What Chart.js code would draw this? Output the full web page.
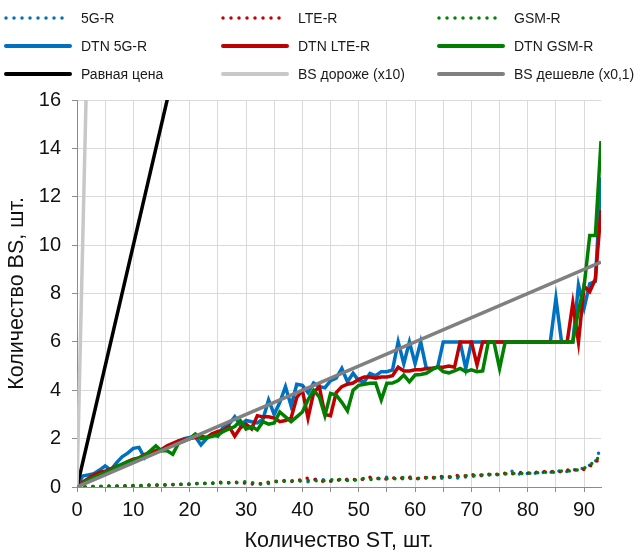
<!DOCTYPE html>
<html lang="ru">
<head>
<meta charset="utf-8">
<title>Количество BS и ST</title>
<script src="https://cdn.jsdelivr.net/npm/chart.js@4.4.1/dist/chart.umd.min.js"></script>
<style>
  html, body { margin: 0; padding: 0; background: #fff; }
  .wrap { position: relative; width: 641px; height: 554px; font-family: 'Liberation Sans', Arial, sans-serif; }
  #chart { position: absolute; left: 0; top: 0; }
  .legend { position: absolute; left: 0; top: 0; width: 641px; height: 90px; }
  .item { position: absolute; height: 20px; display: flex; align-items: center; font-size: 14px; color: #1a1a1a; white-space: nowrap; }
  .item svg { margin-right: 9px; }
</style>
</head>
<body>
<div class="wrap">
  <canvas id="chart" width="641" height="554"></canvas>
  <div class="legend" id="legend"></div>
</div>
<script>
'use strict';

// number of ST (x axis)
const stCount = [
   0,  1,  2,  3,  4,  5,  6,  7,  8,  9, 10, 11, 12, 13, 14, 15, 16, 17, 18, 19,
  20, 21, 22, 23, 24, 25, 26, 27, 28, 29, 30, 31, 32, 33, 34, 35, 36, 37, 38, 39,
  40, 41, 42, 43, 44, 45, 46, 47, 48, 49, 50, 51, 52, 53, 54, 55, 56, 57, 58, 59,
  60, 61, 62, 63, 64, 65, 66, 67, 68, 69, 70, 71, 72, 73, 74, 75, 76, 77, 78, 79,
  80, 81, 82, 83, 84, 85, 86, 87, 88, 89, 90, 91, 92, 93
];
const stTicks = [0, 5, 10, 15, 20, 25, 30, 35, 40, 45, 50, 55, 60, 65, 70, 75, 80, 85, 90];

// number of BS, plain networks (dotted)
const bs5g = [
  0, 0.01, 0.02, 0.02, 0.03, 0.03, 0.04, 0.04, 0.05, 0.05,
  0.06, 0.06, 0.07, 0.08, 0.08, 0.09, 0.10, 0.10, 0.11, 0.12,
  0.13, 0.14, 0.17, 0.14, 0.16, 0.20, 0.17, 0.18, 0.19, 0.17,
  0.18, 0.16, 0.12, 0.15, 0.14, 0.20, 0.25, 0.28, 0.26, 0.24,
  0.26, 0.22, 0.30, 0.36, 0.27, 0.24, 0.27, 0.30, 0.32, 0.28,
  0.30, 0.33, 0.36, 0.34, 0.38, 0.40, 0.37, 0.35, 0.34, 0.42,
  0.35, 0.33, 0.36, 0.38, 0.34, 0.37, 0.40, 0.38, 0.36, 0.42,
  0.45, 0.43, 0.47, 0.50, 0.48, 0.52, 0.54, 0.68, 0.55, 0.53,
  0.56, 0.58, 0.56, 0.62, 0.60, 0.65, 0.68, 0.64, 0.72, 0.70,
  0.80, 0.90, 1.05, 1.67
];
const bsLte = [
  0, 0.00, 0.01, 0.02, 0.02, 0.03, 0.03, 0.03, 0.04, 0.04,
  0.05, 0.05, 0.06, 0.07, 0.07, 0.08, 0.09, 0.09, 0.10, 0.11,
  0.12, 0.15, 0.13, 0.16, 0.15, 0.22, 0.18, 0.17, 0.20, 0.19,
  0.16, 0.12, 0.11, 0.16, 0.20, 0.23, 0.26, 0.24, 0.22, 0.30,
  0.28, 0.38, 0.33, 0.26, 0.22, 0.25, 0.30, 0.28, 0.30, 0.32,
  0.28, 0.34, 0.40, 0.36, 0.35, 0.33, 0.37, 0.39, 0.36, 0.38,
  0.34, 0.36, 0.40, 0.38, 0.41, 0.44, 0.42, 0.46, 0.49, 0.46,
  0.52, 0.48, 0.50, 0.53, 0.51, 0.55, 0.57, 0.54, 0.58, 0.60,
  0.57, 0.62, 0.60, 0.64, 0.63, 0.66, 0.62, 0.70, 0.68, 0.72,
  0.72, 0.85, 1.00, 1.25
];
const bsGsm = [
  0, 0.01, 0.01, 0.02, 0.02, 0.02, 0.03, 0.04, 0.04, 0.05,
  0.05, 0.06, 0.06, 0.07, 0.08, 0.08, 0.09, 0.10, 0.11, 0.11,
  0.12, 0.13, 0.14, 0.15, 0.16, 0.15, 0.17, 0.18, 0.16, 0.20,
  0.22, 0.18, 0.14, 0.12, 0.17, 0.22, 0.25, 0.23, 0.24, 0.26,
  0.25, 0.27, 0.24, 0.29, 0.25, 0.30, 0.28, 0.33, 0.27, 0.26,
  0.32, 0.36, 0.30, 0.33, 0.35, 0.34, 0.32, 0.36, 0.40, 0.35,
  0.37, 0.36, 0.39, 0.41, 0.38, 0.42, 0.40, 0.45, 0.43, 0.47,
  0.46, 0.50, 0.49, 0.52, 0.50, 0.53, 0.55, 0.57, 0.54, 0.56,
  0.58, 0.55, 0.60, 0.62, 0.58, 0.64, 0.66, 0.65, 0.69, 0.71,
  0.78, 0.92, 1.05, 1.40
];

// number of BS, DTN variants (solid)
const dtn5g = [
  0, 0.45, 0.50, 0.55, 0.70, 0.87, 0.70, 1.00, 1.25, 1.40,
  1.60, 1.64, 1.20, 1.40, 1.45, 1.50, 1.65, 1.75, 1.90, 2.00,
  2.05, 2.08, 1.74, 2.00, 2.20, 2.10, 2.50, 2.60, 2.90, 2.55,
  2.75, 2.70, 2.65, 2.80, 3.60, 3.00, 3.50, 4.15, 3.35, 4.25,
  4.20, 3.90, 4.30, 4.15, 4.10, 4.40, 4.50, 4.90, 4.35, 4.70,
  4.40, 4.35, 4.70, 4.60, 4.77, 4.77, 4.84, 6.00, 5.10, 6.00,
  5.10, 6.00, 4.90, 4.90, 4.95, 6.00, 6.00, 6.00, 6.00, 4.90,
  6.00, 6.00, 6.00, 6.00, 6.00, 6.00, 6.00, 6.00, 6.00, 6.00,
  6.00, 6.00, 6.00, 6.00, 6.00, 7.80, 6.00, 6.00, 6.00, 8.35,
  7.40, 8.40, 8.50, 12.80
];
const dtnLte = [
  0, 0.20, 0.35, 0.50, 0.60, 0.65, 0.75, 0.85, 0.90, 1.05,
  1.15, 1.20, 1.35, 1.40, 1.50, 1.55, 1.70, 1.80, 1.90, 1.95,
  2.00, 2.05, 2.10, 2.05, 2.20, 2.30, 2.35, 2.50, 2.10, 2.45,
  2.60, 2.40, 2.95, 2.90, 2.90, 2.85, 2.70, 2.75, 2.85, 3.70,
  4.00, 2.85, 3.90, 4.15, 3.00, 2.95, 3.90, 4.15, 4.25, 4.30,
  4.45, 4.55, 4.55, 4.50, 4.55, 4.55, 4.60, 4.95, 4.80, 4.80,
  4.85, 4.85, 4.90, 4.90, 4.95, 4.95, 5.00, 4.95, 6.00, 6.00,
  6.00, 5.05, 6.00, 6.00, 6.00, 6.00, 6.00, 6.00, 6.00, 6.00,
  6.00, 6.00, 6.00, 6.00, 6.00, 6.00, 6.00, 6.00, 7.60, 6.00,
  8.30, 8.07, 8.60, 11.45
];
const dtnGsm = [
  0, 0.15, 0.30, 0.40, 0.50, 0.60, 0.70, 0.85, 0.95, 1.05,
  1.10, 1.20, 1.30, 1.50, 1.70, 1.50, 1.50, 1.35, 1.80, 1.90,
  2.00, 2.19, 2.00, 2.05, 2.10, 2.15, 2.30, 2.40, 2.50, 2.74,
  2.40, 2.50, 2.36, 2.70, 2.60, 2.65, 3.10, 2.90, 2.70, 2.90,
  3.10, 3.60, 4.00, 3.73, 2.95, 3.87, 3.80, 3.50, 3.15, 4.00,
  4.20, 4.25, 4.29, 4.30, 3.60, 4.29, 4.30, 4.40, 4.63, 4.35,
  4.63, 4.65, 4.70, 4.85, 4.97, 4.77, 4.72, 4.80, 4.90, 4.77,
  4.84, 4.77, 4.80, 6.00, 6.00, 4.90, 6.00, 6.00, 6.00, 6.00,
  6.00, 6.00, 6.00, 6.00, 6.00, 6.00, 6.00, 6.00, 6.00, 7.30,
  8.30, 10.40, 10.40, 14.30
];

// reference lines: equal price, BS 10x dearer, BS 10x cheaper
const refSt = [0, 93];
const equalPrice = [0, 93];
const bsDearer = [0, 930];
const bsCheaper = [0, 9.3];

const series = [
  { label: '5G-R',              x: stCount, y: bs5g,       color: '#0070c0', dotted: true },
  { label: 'LTE-R',             x: stCount, y: bsLte,      color: '#c00000', dotted: true },
  { label: 'GSM-R',             x: stCount, y: bsGsm,      color: '#008000', dotted: true },
  { label: 'DTN 5G-R',          x: stCount, y: dtn5g,      color: '#0070c0' },
  { label: 'DTN LTE-R',         x: stCount, y: dtnLte,     color: '#c00000' },
  { label: 'DTN GSM-R',         x: stCount, y: dtnGsm,     color: '#008000' },
  { label: 'Равная цена',       x: refSt,   y: equalPrice, color: '#000000' },
  { label: 'BS дороже (x10)',   x: refSt,   y: bsDearer,   color: '#c8c8c8' },
  { label: 'BS дешевле (x0,1)', x: refSt,   y: bsCheaper,  color: '#808080' }
];

// legend, 3 columns x 3 rows
const legend = document.getElementById('legend');
const colX = [4, 221, 437];
const rowY = [18, 46, 74];
series.forEach((s, i) => {
  const el = document.createElement('div');
  el.className = 'item';
  el.style.left = colX[i % 3] + 'px';
  el.style.top = (rowY[Math.floor(i / 3)] - 10) + 'px';
  const dash = s.dotted ? 'stroke-dasharray="0 8" stroke-width="3.5"' : 'stroke-width="4"';
  el.innerHTML = `<svg width="68" height="10"><line x1="2" y1="5" x2="66" y2="5" stroke="${s.color}" ${dash} stroke-linecap="round"/></svg><span>${s.label}</span>`;
  legend.appendChild(el);
});

Chart.defaults.font.family = "'Liberation Sans', Arial, sans-serif";
Chart.defaults.color = '#111';

const datasets = series.map((s, i) => ({
  label: s.label,
  data: s.x.map((v, k) => ({ x: v, y: s.y[k] })),
  showLine: true,
  borderColor: s.color,
  backgroundColor: s.color,
  borderWidth: 3.5,
  borderDash: s.dotted ? [0, 8] : [],
  borderCapStyle: s.dotted ? 'round' : 'butt',
  pointRadius: 0,
  tension: 0,
  order: series.length - i
}));

new Chart(document.getElementById('chart'), {
  type: 'scatter',
  data: { datasets },
  options: {
    responsive: false,
    animation: false,
    layout: { padding: { top: 100, right: 40, left: 0, bottom: 0 } },
    plugins: { legend: { display: false }, tooltip: { enabled: false } },
    scales: {
      x: {
        type: 'linear', min: 0, max: 93,
        afterBuildTicks: s => { s.ticks = stTicks.map(v => ({ value: v })); },
        afterFit: s => { s.height = 67; },
        ticks: { autoSkip: false, maxRotation: 0, padding: 6, font: { size: 20 },
                 callback: v => (v % 10 === 0 ? v : '') },
        grid: { color: '#d9d9d9', tickColor: '#8c8c8c', tickLength: 5 },
        border: { color: '#8c8c8c' },
        title: { display: true, text: 'Количество ST, шт.', font: { size: 21.5 }, padding: { top: 0, bottom: 0 } }
      },
      y: {
        min: 0, max: 16,
        afterFit: s => { s.width = 77; },
        ticks: { stepSize: 2, padding: 11, font: { size: 20 } },
        grid: { color: '#d9d9d9', tickColor: '#8c8c8c', tickLength: 5 },
        border: { color: '#8c8c8c' },
        title: { display: true, text: 'Количество BS, шт.', font: { size: 21.5 }, padding: { top: 4, bottom: 0 } }
      }
    }
  }
});
</script>
</body>
</html>
